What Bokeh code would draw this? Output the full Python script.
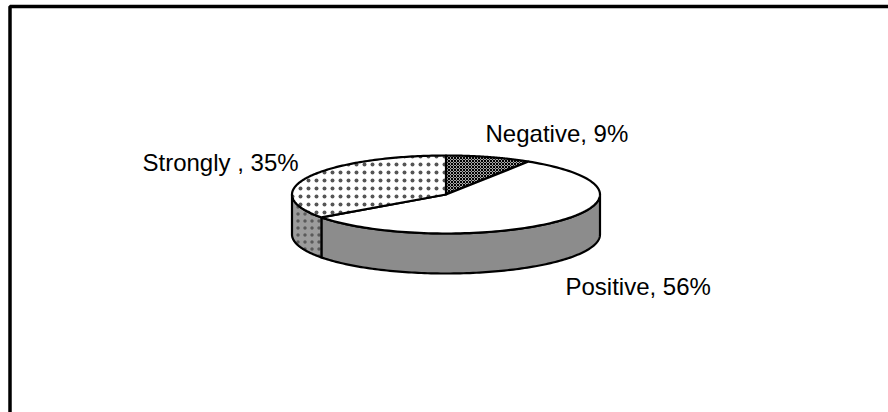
import numpy as np
from bokeh.plotting import figure
from bokeh.models import Range1d
from bokeh.embed import file_html
from bokeh.resources import INLINE
from bokeh.core.properties import value

# Survey answers and their shares (percent)
categories = ["Negative", "Positive", "Strongly "]
shares = [9, 56, 35]

# Look of each slice: top face and visible rim
top_fill = ["#a8a8a8", "#ffffff", "#ffffff"]
top_hatch = ["x", " ", "."]
top_hatch_color = ["#000000", "#000000", "#555555"]
top_hatch_scale = [3.0, 8.0, 8.0]
top_hatch_weight = [1.0, 1.0, 0.6]
side_fill = ["#8c8c8c", "#8c8c8c", "#9c9c9c"]
side_hatch = ["x", " ", "."]
side_hatch_color = ["#303030", "#000000", "#5a5a5a"]

# Label anchors (left edge, baseline) in page pixels
label_pos = [(485, 133), (565, 286), (142, 162)]

# Tilted disc geometry, page pixels
CX, CY = 445.5, 194.0
RX, RY = 154.0, 39.0
DEPTH = 40.0
START = 90.0  # first slice starts at twelve o'clock, runs clockwise

W, H = 888, 412
p = figure(width=W, height=H, output_backend="svg", toolbar_location=None,
           x_range=Range1d(0, W), y_range=Range1d(H, 0), min_border=0,
           background_fill_color="white", border_fill_color="white")
p.axis.visible = False
p.grid.visible = False
p.outline_line_color = None


def arc(t0, t1, dy=0.0, n=120):
    ts = np.radians(np.linspace(t0, t1, n))
    return CX + RX * np.cos(ts), CY - RY * np.sin(ts) + dy


total = float(sum(shares))
spans = []
a0 = START
for v in shares:
    a1 = a0 - 360.0 * v / total
    spans.append((a0, a1))
    a0 = a1

# Rim (front half only, angles -180..0)
for i, (s0, s1) in enumerate(spans):
    hi = min(s0, 0.0)
    lo = max(s1, -180.0)
    if hi <= lo:
        continue
    xt, yt = arc(lo, hi)
    xb, yb = arc(hi, lo, dy=DEPTH)
    xs = list(xt) + list(xb)
    ys = list(yt) + list(yb)
    dotted = side_hatch[i] == "."
    p.patch(xs, ys, fill_color=side_fill[i], hatch_pattern=side_hatch[i],
            hatch_color=side_hatch_color[i], hatch_scale=7.0 if dotted else 3.0,
            hatch_weight=0.6 if dotted else 1.0,
            line_color="black", line_width=2.2, line_join="round")

# Top faces
for i, (s0, s1) in enumerate(spans):
    xa, ya = arc(s0, s1)
    xs = [CX] + list(xa) + [CX]
    ys = [CY] + list(ya) + [CY]
    p.patch(xs, ys, fill_color=top_fill[i], hatch_pattern=top_hatch[i],
            hatch_color=top_hatch_color[i], hatch_scale=top_hatch_scale[i],
            hatch_weight=top_hatch_weight[i],
            line_color="black", line_width=2.2, line_join="round")

# Data labels
labels = [f"{c}, {v}%" for c, v in zip(categories, shares)]
p.text(x=[q[0] for q in label_pos], y=[q[1] for q in label_pos], text=labels,
       text_font=value("Liberation Sans"), text_font_size="24px",
       text_color="black", text_align="left", text_baseline="alphabetic")

# Chart area border
p.line([9.5, 9.5, W + 20], [H + 20, 6.0, 6.0], line_color="black", line_width=3.5)

open("out.html", "w").write(file_html(p, INLINE))
